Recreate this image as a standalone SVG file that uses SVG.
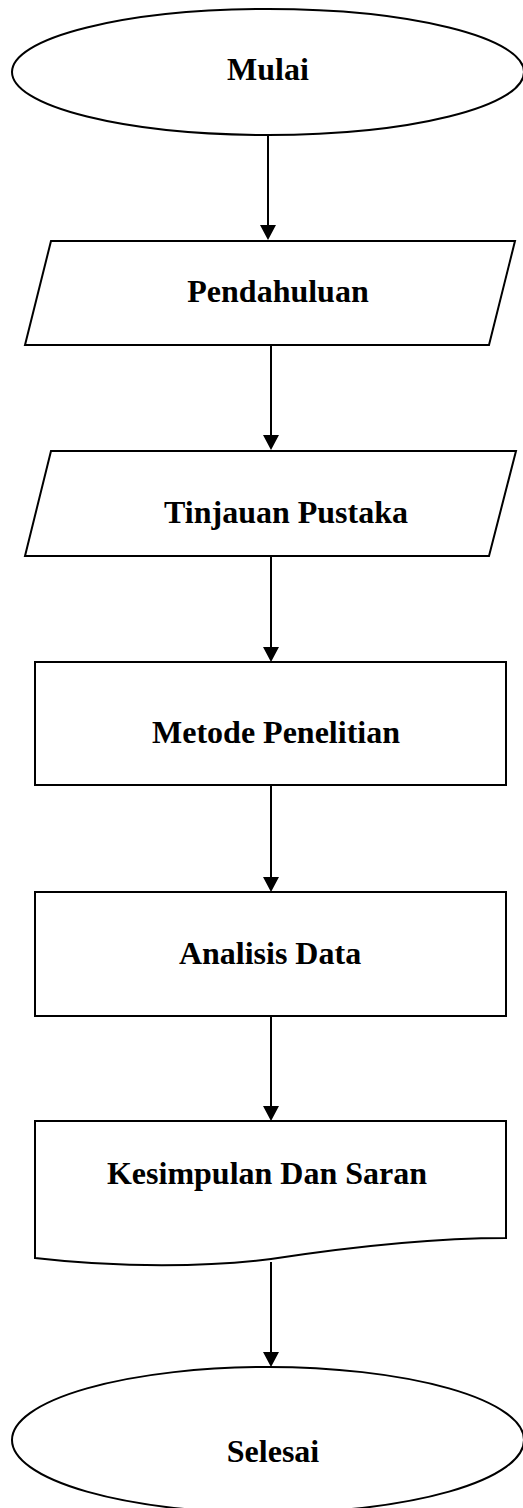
<svg xmlns="http://www.w3.org/2000/svg" width="523" height="1508" viewBox="0 0 523 1508">
<defs>
<marker id="arr" markerUnits="userSpaceOnUse" viewBox="0 0 15 16" markerWidth="15" markerHeight="16" refX="12" refY="8" orient="auto">
<path d="M0,0 L15,8 L0,16 z" fill="#000"/>
</marker>
<style>
.shape{fill:#fff;stroke:#000;stroke-width:2}
.lbl{font-family:"Liberation Serif","Times New Roman",serif;font-weight:bold;font-size:32px;fill:#000;text-anchor:middle}
.conn{stroke:#000;stroke-width:2;fill:none;marker-end:url(#arr)}
</style>
</defs>
<rect width="523" height="1508" fill="#fff"/>
<g id="connectors">
<line class="conn" x1="268" y1="135" x2="268" y2="237"/>
<line class="conn" x1="271" y1="345" x2="271" y2="447"/>
<line class="conn" x1="271" y1="556" x2="271" y2="659"/>
<line class="conn" x1="271" y1="785" x2="271" y2="889"/>
<line class="conn" x1="271" y1="1016" x2="271" y2="1118"/>
<line class="conn" x1="271" y1="1262" x2="271" y2="1364"/>
</g>
<g id="mulai">
<ellipse class="shape" cx="268" cy="72" rx="256" ry="63"/>
<text class="lbl" x="268" y="80">Mulai</text>
</g>
<g id="pendahuluan">
<polygon class="shape" points="51,241 515,241 489,345 25,345"/>
<text class="lbl" x="278" y="302">Pendahuluan</text>
</g>
<g id="tinjauan">
<polygon class="shape" points="51,451 516,451 489,556 25,556"/>
<text class="lbl" x="286" y="523">Tinjauan Pustaka</text>
</g>
<g id="metode">
<rect class="shape" x="35" y="662" width="471" height="123"/>
<text class="lbl" x="276" y="743">Metode Penelitian</text>
</g>
<g id="analisis">
<rect class="shape" x="35" y="892" width="471" height="124"/>
<text class="lbl" x="270" y="964">Analisis Data</text>
</g>
<g id="kesimpulan">
<path class="shape" d="M35,1121 H506 V1238 C420,1238 330,1250 271,1259 C210,1267 120,1268 35,1258 Z"/>
<text class="lbl" x="267" y="1184">Kesimpulan Dan Saran</text>
</g>
<g id="selesai">
<ellipse class="shape" cx="268" cy="1440" rx="256" ry="73"/>
<text class="lbl" x="273" y="1462">Selesai</text>
</g>
</svg>
